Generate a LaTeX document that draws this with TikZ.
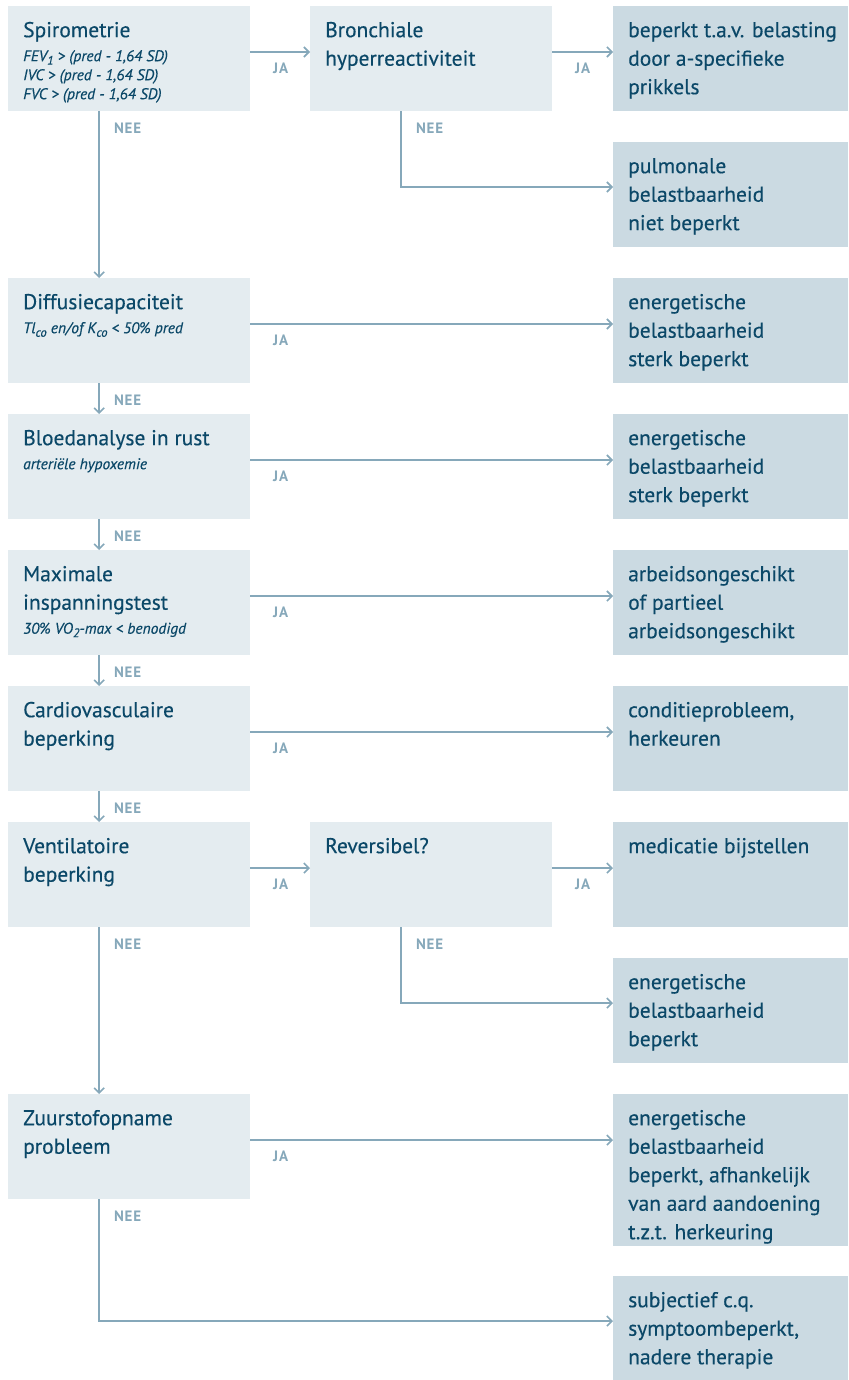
\documentclass[tikz,border=0pt]{standalone}
\usepackage{fontspec}
\setmainfont[FakeBold=0.35]{PT Sans}
\newfontfamily\lblfont[LetterSpace=6]{PT Sans}
\usepackage{xcolor}
\usepackage{tikz}
\usetikzlibrary{arrows.meta}

\definecolor{boxlight}{HTML}{E4ECF0}
\definecolor{boxdark}{HTML}{CBDAE2}
\definecolor{ink}{HTML}{0B4868}
\definecolor{wire}{HTML}{86A8BA}

% box content: top aligned, fixed height
\newcommand{\boxtxt}[3]{\hspace*{15pt}\parbox[t][#1][t]{#2}{\raggedright #3}}
\newcommand{\ttl}[1]{{\fontsize{21.5}{28.5}\selectfont\rule{0pt}{31pt}#1\par}}
\newcommand{\subt}[1]{{\vspace{5pt}\fontsize{15.5}{19}\selectfont\itshape #1\par}}
\newcommand{\low}[1]{\raisebox{-3.5pt}{\fontsize{12.5}{12.5}\selectfont #1}}

\begin{document}
\begin{tikzpicture}[x=1pt,y=-1pt,
   qbox/.style={fill=boxlight,text=ink,inner sep=0,anchor=north west},
   rbox/.style={fill=boxdark,text=ink,inner sep=0,anchor=north west},
   arr/.style={wire,line width=1.6pt,-{Straight Barb[length=5pt,width=10pt]}},
   ja/.style={pos=0,anchor=north west,xshift=22pt,yshift=-10pt,inner sep=0,text=wire,font=\lblfont\fontsize{15}{17}\selectfont\bfseries},
   nee/.style={pos=0,anchor=north west,xshift=14pt,yshift=-11pt,inner sep=0,text=wire,font=\lblfont\fontsize{15}{17}\selectfont\bfseries}]
\useasboundingbox (0,0) rectangle (848,1380);

% questions, left column
\node[qbox] (spiro) at (8,6) {\boxtxt{105pt}{227pt}{\ttl{Spirometrie}%
   \subt{FEV\low{1} > (pred - 1,64 SD)\\IVC > (pred - 1,64 SD)\\FVC > (pred - 1,64 SD)}}};
\node[qbox] (diff) at (8,278) {\boxtxt{105pt}{227pt}{\ttl{Diffusiecapaciteit}%
   \subt{Tl\low{co} en/of K\low{co} < 50\% pred}}};
\node[qbox] (bloed) at (8,414) {\boxtxt{105pt}{227pt}{\ttl{Bloedanalyse in rust}%
   \subt{arteriële hypoxemie}}};
\node[qbox] (maxi) at (8,550) {\boxtxt{105pt}{227pt}{\ttl{Maximale\\inspanningstest}%
   \subt{30\% VO\low{2}-max < benodigd}}};
\node[qbox] (cardio) at (8,686) {\boxtxt{105pt}{227pt}{\ttl{Cardiovasculaire\\beperking}}};
\node[qbox] (vent) at (8,822) {\boxtxt{105pt}{227pt}{\ttl{Ventilatoire\\beperking}}};
\node[qbox] (zuur) at (8,1094) {\boxtxt{105pt}{227pt}{\ttl{Zuurstofopname\\probleem}}};

% questions, middle column
\node[qbox] (bron) at (310,6) {\boxtxt{105pt}{227pt}{\ttl{Bronchiale\\hyperreactiviteit}}};
\node[qbox] (rev) at (310,822) {\boxtxt{105pt}{227pt}{\ttl{Reversibel?}}};

% outcomes, right column
\node[rbox] (bel) at (613,6) {\boxtxt{105pt}{220pt}{\ttl{beperkt t.a.v. belasting\\door a-specifieke\\prikkels}}};
\node[rbox] (pulm) at (613,142) {\boxtxt{105pt}{220pt}{\ttl{pulmonale\\belastbaarheid\\niet beperkt}}};
\node[rbox] (ener1) at (613,278) {\boxtxt{105pt}{220pt}{\ttl{energetische\\belastbaarheid\\sterk beperkt}}};
\node[rbox] (ener2) at (613,414) {\boxtxt{105pt}{220pt}{\ttl{energetische\\belastbaarheid\\sterk beperkt}}};
\node[rbox] (arbo) at (613,550) {\boxtxt{105pt}{220pt}{\ttl{arbeidsongeschikt\\of partieel\\arbeidsongeschikt}}};
\node[rbox] (cond) at (613,686) {\boxtxt{105pt}{220pt}{\ttl{conditieprobleem,\\herkeuren}}};
\node[rbox] (medi) at (613,822) {\boxtxt{105pt}{220pt}{\ttl{medicatie bijstellen}}};
\node[rbox] (ener3) at (613,958) {\boxtxt{105pt}{220pt}{\ttl{energetische\\belastbaarheid\\beperkt}}};
\node[rbox] (eafh) at (613,1094) {\boxtxt{152pt}{220pt}{\ttl{energetische\\belastbaarheid\\beperkt, afhankelijk\\van aard aandoening\\t.z.t. herkeuring}}};
\node[rbox] (subj) at (613,1276) {\boxtxt{104pt}{220pt}{\ttl{subjectief c.q.\\symptoombeperkt,\\nadere therapie}}};

% JA arrows
\foreach \a/\b in {spiro/bron,bron/bel,diff/ener1,bloed/ener2,maxi/arbo,
   cardio/cond,vent/rev,rev/medi,zuur/eafh} {
   \draw[arr] ([yshift=-46pt]\a.north east) -- ([yshift=-46pt]\b.north west) node[ja] {JA};
}
% NEE arrows
\foreach \a/\b in {spiro/diff,diff/bloed,bloed/maxi,maxi/cardio,cardio/vent,vent/zuur} {
   \draw[arr] ([xshift=-30pt]\a.south) -- ([xshift=-30pt]\b.north) node[nee] {NEE};
}
\draw[arr] ([xshift=-30pt]bron.south) |- ([yshift=-45pt]pulm.north west) node[nee] {NEE};
\draw[arr] ([xshift=-30pt]rev.south) |- ([yshift=-45pt]ener3.north west) node[nee] {NEE};
\draw[arr] ([xshift=-30pt]zuur.south) |- ([yshift=-45pt]subj.north west) node[nee] {NEE};
\end{tikzpicture}
\end{document}
